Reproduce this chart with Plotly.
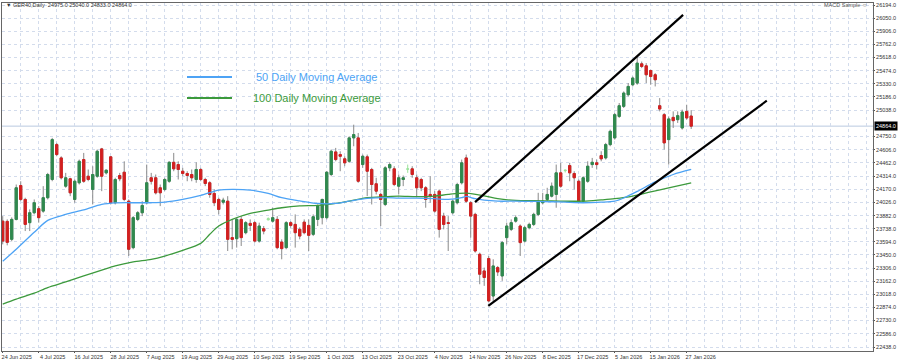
import plotly.graph_objects as go

# ---------------- data ----------------
tick_labels = ["24 Jun 2025", "4 Jul 2025", "16 Jul 2025", "28 Jul 2025", "7 Aug 2025",
               "19 Aug 2025", "29 Aug 2025", "10 Sep 2025", "19 Sep 2025", "1 Oct 2025",
               "13 Oct 2025", "23 Oct 2025", "4 Nov 2025", "14 Nov 2025", "26 Nov 2025",
               "8 Dec 2025", "17 Dec 2025", "5 Jan 2026", "15 Jan 2026", "27 Jan 2026"]

open_ = [23821, 23818, 23621, 23840, 24212, 24059, 23804, 23913, 23957, 23931,
         24078, 24278, 24661, 24515, 24205, 24286, 24059, 24242, 24497, 24314,
         24169, 24314, 24614, 24351, 24527, 24023, 24322, 24358, 24040, 23530,
         23840, 23913, 24023, 24297, 24297, 24187, 24169, 24259, 24467, 24442,
         24369, 24344, 24333, 24278, 24388, 24278, 24242, 24125, 24059, 24029,
         24040, 23640, 23628, 23840, 23694, 23796, 23804, 23602, 23738, 23835,
         23821, 23840, 23591, 23530, 23804, 23785, 23731, 23810, 23774, 23676,
         23840, 23859, 23859, 24333, 24581, 24552, 24505, 24478, 24735, 24735,
         24442, 24527, 24388, 24231, 24114, 24004, 24406, 24395, 24205, 24278,
         24390, 24395, 24297, 24278, 24187, 24114, 24114, 24150, 23876, 23804,
         23913, 24023, 24242, 24515, 24023, 23895, 23457, 23274, 23410, 22999,
         23311, 23219, 23640, 23731, 23821, 23767, 23602, 23749, 23785, 23895,
         24023, 24059, 24095, 24114, 24351, 24375, 24431, 24344, 24259, 24040,
         24259, 24442, 24461, 24541, 24515, 24661, 24735, 24971, 25081, 25209,
         25318, 25337, 25548, 25526, 25475, 25428, 25088, 24990, 24716, 24960,
         24935, 24844, 25026, 24975]

high = [23876, 23840, 23862, 24223, 24259, 24078, 23950, 24059, 23986, 24205,
        24351, 24735, 24680, 24533, 24351, 24297, 24278, 24497, 24570, 24388,
        24424, 24607, 24625, 24388, 24533, 24297, 24351, 24478, 24059, 23876,
        23931, 24040, 24442, 24351, 24333, 24223, 24297, 24478, 24570, 24478,
        24406, 24369, 24388, 24467, 24406, 24297, 24259, 24169, 24078, 24078,
        24095, 23840, 23859, 23876, 23821, 23840, 23821, 23804, 23767, 23862,
        23968, 23876, 23621, 23821, 23821, 23895, 23753, 23840, 23840, 23895,
        24004, 24067, 24369, 24607, 24625, 24588, 24533, 24752, 24880, 24789,
        24552, 24552, 24406, 24297, 24132, 24424, 24467, 24424, 24333, 24322,
        24442, 24424, 24333, 24297, 24205, 24314, 24150, 24169, 23913, 23876,
        24059, 24242, 24497, 24552, 24040, 23913, 23475, 23311, 23438, 23402,
        23329, 23602, 23804, 23840, 23884, 23785, 23767, 23804, 23913, 24132,
        24132, 24187, 24245, 24442, 24461, 24388, 24461, 24369, 24278, 24314,
        24478, 24515, 24497, 24588, 24680, 24826, 25008, 25118, 25245, 25337,
        25409, 25628, 25573, 25556, 25483, 25446, 25172, 25008, 24971, 25026,
        25026, 25045, 25099, 25040]

low = [23566, 23555, 23599, 23829, 24040, 23712, 23712, 23895, 23804, 23913,
       24059, 24259, 24533, 24278, 24187, 24095, 24023, 24223, 24242, 24259,
       24004, 24297, 24150, 24333, 24004, 24004, 24259, 24040, 23438, 23512,
       23821, 23876, 24004, 24223, 24114, 23986, 24150, 24242, 24369, 24278,
       24314, 24259, 24259, 24242, 24259, 24205, 24078, 23986, 23895, 24004,
       23493, 23512, 23530, 23548, 23676, 23712, 23585, 23585, 23676, 23829,
       23804, 23512, 23402, 23512, 23749, 23530, 23621, 23676, 23493, 23657,
       23767, 23785, 23840, 24314, 24478, 24369, 24424, 24461, 24643, 24242,
       24406, 24095, 24004, 24114, 23767, 23986, 24369, 24205, 24114, 24205,
       24351, 24297, 24095, 24150, 23968, 24023, 23913, 23640, 23731, 23493,
       23895, 24004, 24223, 24023, 23640, 23475, 23128, 23110, 22928, 22945,
       23219, 23165, 23566, 23712, 23804, 23438, 23585, 23731, 23767, 23876,
       24004, 24040, 24081, 23968, 24187, 24355, 24259, 24169, 24023, 24023,
       24242, 24406, 24388, 24478, 24497, 24643, 24716, 24954, 25063, 25190,
       25300, 25318, 25501, 25337, 25318, 25300, 25026, 24607, 24442, 24844,
       24899, 24826, 24935, 24833]

close = [23602, 23588, 23840, 24187, 24059, 23785, 23913, 24023, 23859, 24078,
         24333, 24716, 24552, 24297, 24297, 24132, 24259, 24478, 24259, 24278,
         24333, 24588, 24314, 24380, 24023, 24278, 24286, 24059, 23512, 23859,
         23913, 23993, 24242, 24259, 24132, 24132, 24278, 24467, 24395, 24388,
         24344, 24322, 24297, 24388, 24278, 24234, 24114, 24023, 23950, 24051,
         23621, 23621, 23840, 23640, 23804, 23774, 23602, 23767, 23712, 23848,
         23859, 23530, 23519, 23804, 23774, 23694, 23657, 23694, 23665, 23869,
         23986, 24059, 24358, 24588, 24497, 24533, 24461, 24735, 24771, 24259,
         24533, 24369, 24223, 24150, 24059, 24406, 24442, 24223, 24297, 24297,
         24395, 24333, 24187, 24187, 24059, 24095, 23931, 23731, 23785, 23796,
         24040, 24223, 24461, 24040, 23876, 23493, 23238, 23202, 22945, 23329,
         23263, 23585, 23767, 23804, 23859, 23585, 23749, 23785, 23895, 24040,
         24040, 24114, 24205, 24351, 24205, 24380, 24351, 24297, 24040, 24297,
         24424, 24467, 24442, 24505, 24661, 24807, 24990, 25088, 25227, 25300,
         25392, 25556, 25519, 25428, 25409, 25373, 25052, 24680, 24943, 24924,
         24979, 25019, 24954, 24864]

doji_idx = [59, 90, 125]

ma50_idx = [0, 3, 7, 10, 14, 18, 22, 25, 29, 33, 36, 40, 44, 48, 51, 55, 59, 62, 66,
            70, 74, 77, 81, 85, 88, 92, 96, 99, 102, 103, 105, 107, 110, 114, 118,
            122, 125, 129, 133, 136, 138, 141, 145, 149, 153]
ma50_val = [23380, 23512, 23698, 23829, 23895, 23944, 24004, 24021, 24023, 24023,
            24029, 24059, 24103, 24161, 24169, 24161, 24125, 24078, 24043,
            24015, 24015, 24040, 24070, 24078, 24073, 24073, 24067, 24059, 24078,
            24092, 24067, 24051, 24040, 24040, 24037, 24034, 24029, 24023, 24029,
            24040, 24075, 24147, 24251, 24333, 24388]

ma100_idx = [0, 3, 7, 10, 14, 18, 22, 25, 29, 33, 36, 40, 44, 46, 48, 51, 55, 59,
             62, 66, 70, 74, 77, 81, 85, 88, 92, 96, 99, 103, 107, 110, 114, 118,
             122, 129, 133, 136, 140, 144, 148, 153]
ma100_val = [22909, 22964, 23030, 23092, 23153, 23219, 23282, 23329, 23373, 23402,
             23438, 23500, 23577, 23676, 23767, 23840, 23906, 23942, 23968, 23988,
             23993, 24015, 24040, 24078, 24089, 24095, 24089, 24095, 24114, 24128,
             24099, 24067, 24048, 24045, 24043, 24040, 24054, 24067, 24095, 24141,
             24185, 24242]

upper_line_x = [104.96, 151.2]
upper_line_y = [24029, 26085]
lower_line_x = [107.9, 169.8]
lower_line_y = [22891, 25143]

y_ticks = [22438, 22586, 22730, 22874, 23018, 23162, 23306, 23450, 23594, 23738,
           23882, 24026, 24170, 24314, 24462, 24606, 24750, 25038, 25186, 25330,
           25474, 25618, 25762, 25906, 26050, 26194]

last_price = close[-1]

# ---------------- styling ----------------
GREEN = "#2f8a4e"
RED = "#d41f1f"
WICK = "#8a8a8a"
DOJI = "#9be39b"
BLUE_MA = "#4da3f5"
GREEN_MA = "#3c9a3c"
GRID = "#d3dcec"
FONT = "Liberation Sans"

bars = list(range(len(close)))
normal = [i for i in bars if i not in doji_idx]

def pick(arr, idx):
    return [arr[i] for i in idx]

fig = go.Figure()

# wicks
fig.add_trace(go.Candlestick(
    x=normal, open=pick(open_, normal), high=pick(high, normal),
    low=pick(low, normal), close=pick(close, normal),
    increasing=dict(line=dict(color=WICK, width=1), fillcolor=WICK),
    decreasing=dict(line=dict(color=WICK, width=1), fillcolor=WICK),
    whiskerwidth=0, hoverinfo="skip", name="wick"))

# bodies
body_hi = [max(open_[i], close[i]) for i in normal]
body_lo = [min(open_[i], close[i]) for i in normal]
fig.add_trace(go.Candlestick(
    x=normal, open=pick(open_, normal), high=body_hi, low=body_lo,
    close=pick(close, normal),
    increasing=dict(line=dict(color=GREEN, width=1), fillcolor=GREEN),
    decreasing=dict(line=dict(color=RED, width=1), fillcolor=RED),
    whiskerwidth=0, name="GER40"))

# doji candles
fig.add_trace(go.Candlestick(
    x=doji_idx, open=pick(open_, doji_idx), high=pick(high, doji_idx),
    low=pick(low, doji_idx), close=pick(close, doji_idx),
    increasing=dict(line=dict(color=DOJI, width=1), fillcolor=DOJI),
    decreasing=dict(line=dict(color=DOJI, width=1), fillcolor=DOJI),
    whiskerwidth=0, name="doji"))

fig.add_trace(go.Scatter(x=ma100_idx, y=ma100_val, mode="lines",
                         line=dict(color=GREEN_MA, width=1.3, shape="spline", smoothing=0.8),
                         name="100 Daily Moving Average"))
fig.add_trace(go.Scatter(x=ma50_idx, y=ma50_val, mode="lines",
                         line=dict(color=BLUE_MA, width=1.3, shape="spline", smoothing=0.8),
                         name="50 Daily Moving Average"))

fig.add_trace(go.Scatter(x=upper_line_x, y=upper_line_y, mode="lines",
                         line=dict(color="black", width=2.2), name="upper channel"))
fig.add_trace(go.Scatter(x=lower_line_x, y=lower_line_y, mode="lines",
                         line=dict(color="black", width=2.2), name="lower channel"))

# plot-area pixel helpers for paper coordinates (plot spans x 2..873, y 3..351)
def px(x):
    return (x - 2) / 871.0

def py(y):
    return (351 - y) / 348.0

shapes = [
    dict(type="line", xref="paper", yref="y", x0=0, x1=1, y0=last_price, y1=last_price,
         line=dict(color="#b9c9e0", width=1), layer="below"),
    dict(type="line", xref="paper", yref="paper", x0=px(187), x1=px(232), y0=py(77), y1=py(77),
         line=dict(color=BLUE_MA, width=2)),
    dict(type="line", xref="paper", yref="paper", x0=px(187), x1=px(232), y0=py(98), y1=py(98),
         line=dict(color=GREEN_MA, width=2)),
]

annotations = [
    dict(xref="paper", yref="paper", x=px(254), y=py(77), xanchor="left", yanchor="middle",
         text="50 Daily Moving Average", showarrow=False,
         font=dict(family=FONT, size=11, color=BLUE_MA)),
    dict(xref="paper", yref="paper", x=px(251), y=py(98), xanchor="left", yanchor="middle",
         text="100 Daily Moving Average", showarrow=False,
         font=dict(family=FONT, size=11, color=GREEN_MA)),
    dict(xref="paper", yref="paper", x=px(4), y=py(5), xanchor="left", yanchor="middle",
         text="\u25bc GER40,Daily  %.1f %.1f %.1f %.1f" % (open_[-1], high[-1], low[-1], close[-1]),
         showarrow=False, font=dict(family=FONT, size=5.5, color="#333333")),
    dict(xref="paper", yref="paper", x=px(870), y=py(5), xanchor="right", yanchor="middle",
         text="MACD Sample \u263a", showarrow=False,
         font=dict(family=FONT, size=5.5, color="#555555")),
    dict(xref="paper", yref="y", x=1.0, y=last_price, xanchor="left", yanchor="middle",
         text="%.1f" % last_price, showarrow=False, bgcolor="black", borderpad=1,
         xshift=1, font=dict(family=FONT, size=5.5, color="white")),
]

fig.update_layout(
    width=900, height=361,
    margin=dict(l=2, r=27, t=3, b=10),
    paper_bgcolor="white", plot_bgcolor="white",
    showlegend=False,
    shapes=shapes, annotations=annotations,
    xaxis=dict(
        range=[-0.16, 193.4],
        tickmode="array", tickvals=list(range(0, 153, 8)), ticktext=tick_labels,
        tickangle=0, ticklabelshift=14, ticklabelstandoff=-1,
        ticks="outside", ticklen=1, tickcolor="#555555",
        tickfont=dict(family=FONT, size=5.5, color="#333333"),
        showgrid=True, gridcolor=GRID, griddash="dot", gridwidth=1,
        minor=dict(dtick=4, tick0=0, showgrid=True, gridcolor=GRID, griddash="dot"),
        showline=True, linecolor="#666666", linewidth=1, mirror=True,
        zeroline=False, rangeslider=dict(visible=False), fixedrange=True,
    ),
    yaxis=dict(
        side="right", range=[22395, 26216],
        tickmode="array", tickvals=y_ticks, ticktext=["%.1f" % v for v in y_ticks],
        ticks="outside", ticklen=1, tickcolor="#555555", ticklabelstandoff=0,
        tickfont=dict(family=FONT, size=5.5, color="#333333"),
        showgrid=True, gridcolor=GRID, griddash="dot", gridwidth=1,
        showline=True, linecolor="#666666", linewidth=1, mirror=True,
        zeroline=False, fixedrange=True,
    ),
)

fig.write_html("out.html",
               config={"displayModeBar": False, "staticPlot": True},
               post_script="document.body.style.margin='0px';document.body.style.overflow='hidden';")
